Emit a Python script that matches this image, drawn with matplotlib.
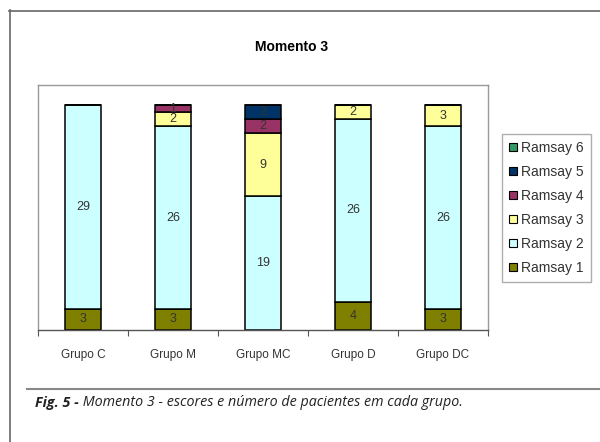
import numpy as np
import matplotlib.pyplot as plt
from matplotlib.lines import Line2D
from matplotlib.patches import Patch

groups = ['Grupo C', 'Grupo M', 'Grupo MC', 'Grupo D', 'Grupo DC']
ramsay1 = [3, 3, 0, 4, 3]
ramsay2 = [29, 26, 19, 26, 26]
ramsay3 = [0, 2, 9, 2, 3]
ramsay4 = [0, 1, 2, 0, 0]
ramsay5 = [0, 0, 2, 0, 0]
ramsay6 = [0, 0, 0, 0, 0]
series_names = ['Ramsay 1', 'Ramsay 2', 'Ramsay 3', 'Ramsay 4', 'Ramsay 5', 'Ramsay 6']
colors = ['#808000', '#CCFFFF', '#FFFF99', '#993366', '#003366', '#339966']

plt.rcParams['font.family'] = ['Liberation Sans', 'DejaVu Sans']

series = np.array([ramsay1, ramsay2, ramsay3, ramsay4, ramsay5, ramsay6], dtype=float)
totals = series.sum(axis=0)
frac = series / totals

fig = plt.figure(figsize=(6, 4.42), dpi=100)
ax = fig.add_axes([38/600, 1-330/442, 450/600, 245/442])

x = np.arange(len(groups))
bottom = np.zeros(len(groups))
for i in range(len(series)):
    ax.bar(x, frac[i], 0.4, bottom=bottom, color=colors[i],
           edgecolor='black', linewidth=1.1, label=series_names[i])
    for j in range(len(groups)):
        if series[i, j] > 0:
            ax.text(x[j], bottom[j] + frac[i, j]/2, '%d' % series[i, j],
                    ha='center', va='center', fontsize=9, color='#333333')
    bottom += frac[i]

ax.set_xlim(-0.5, 4.5)
ax.set_ylim(0, 1.089)
ax.set_yticks([])
ax.set_xticks(np.arange(-0.5, 5, 1.0))
ax.set_xticklabels([])
ax.set_xticks(x, minor=True)
ax.set_xticklabels(groups, minor=True, fontsize=8.5, color='#333333')
ax.tick_params(axis='x', which='major', length=4, color='#555555', width=0.8)
ax.tick_params(axis='x', which='minor', length=0, pad=14)
for s in ['top', 'left', 'right']:
    ax.spines[s].set_color('#999999')
    ax.spines[s].set_linewidth(1.0)
ax.spines['bottom'].set_color('#555555')
ax.spines['bottom'].set_linewidth(1.0)

fig.text(292/600, 1-47/442, 'Momento 3', ha='center', va='center',
         fontsize=10, fontweight='bold')

handles = [Patch(facecolor=colors[i], edgecolor='black', linewidth=0.8,
                 label=series_names[i]) for i in range(5, -1, -1)]
leg = fig.legend(handles=handles, loc='upper left',
                 bbox_to_anchor=(502/600, 1-134/442), borderaxespad=0,
                 fontsize=10, frameon=True, fancybox=False, labelspacing=0.72,
                 handlelength=0.6, handleheight=0.6, handletextpad=0.3,
                 borderpad=0.5)
leg.get_frame().set_edgecolor('#999999')
leg.get_frame().set_linewidth(1.0)
for t in leg.get_texts():
    t.set_color('#333333')

# page frame and caption rule
fig.add_artist(Line2D([9.5/600, 9.5/600], [0, 1-10/442], transform=fig.transFigure,
                      color='#666666', linewidth=1.2))
fig.add_artist(Line2D([9/600, 1], [1-11/442, 1-11/442], transform=fig.transFigure,
                      color='#666666', linewidth=1.2))
fig.add_artist(Line2D([27/600, 1], [1-389/442, 1-389/442], transform=fig.transFigure,
                      color='#888888', linewidth=1.5))

cap1 = fig.text(35/600, 1-407/442, 'Fig. 5 -', fontsize=10.3, fontweight='bold',
                style='italic', family='Open Sans', color='#222222')
ax.annotate(' Momento 3 - escores e número de pacientes em cada grupo.',
            xy=(1, 0), xycoords=cap1, va='bottom', ha='left',
            fontsize=10.3, style='italic', family='Open Sans', color='#222222',
            annotation_clip=False)

fig.savefig('out.png', dpi=100)
